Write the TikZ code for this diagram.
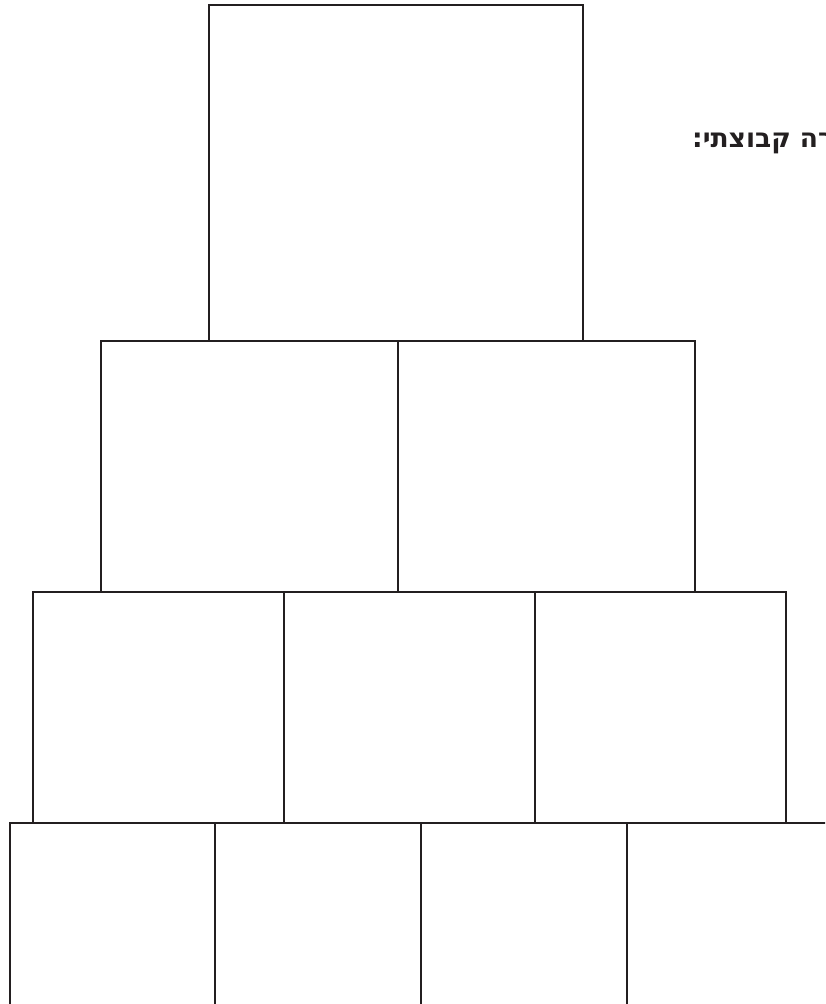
\documentclass[tikz,border=0pt]{standalone}
\usepackage{fontspec}
\newfontfamily\hebfont[Script=Hebrew]{DejaVu Sans}
\TeXXeTstate=1
\definecolor{ink}{HTML}{231F20}
\begin{document}
\begin{tikzpicture}[x=1pt,y=-1pt,
  blockbox/.style={draw=ink, line width=2pt, inner sep=0pt, outer sep=0pt, rectangle},
  titletext/.style={font=\hebfont\bfseries\fontsize{26.5}{30}\selectfont, text=ink, inner sep=0pt, anchor=base west}]
\useasboundingbox (0,0) rectangle (825,1004);
\clip (0,0) rectangle (825,1004);
% top
\node[blockbox, minimum width=374pt, minimum height=336pt] (t1) at (396,173) {};
% row 2
\node[blockbox, minimum width=297pt, minimum height=251pt] (r2a) at (249.5,466.5) {};
\node[blockbox, minimum width=297pt, minimum height=251pt] (r2b) at (546.5,466.5) {};
% row 3
\node[blockbox, minimum width=251pt, minimum height=231pt] (r3a) at (158.5,707.5) {};
\node[blockbox, minimum width=251pt, minimum height=231pt] (r3b) at (409.5,707.5) {};
\node[blockbox, minimum width=251pt, minimum height=231pt] (r3c) at (660.5,707.5) {};
% row 4
\node[blockbox, minimum width=205.5pt, minimum height=207pt] (r4a) at (112.5,926.5) {};
\node[blockbox, minimum width=205.5pt, minimum height=207pt] (r4b) at (318,926.5) {};
\node[blockbox, minimum width=205.5pt, minimum height=207pt] (r4c) at (524,926.5) {};
\node[blockbox, minimum width=205.5pt, minimum height=207pt] (r4d) at (730,926.5) {};
% title
\node[titletext] (title) at (692,147) {\beginR רה קבוצתי:\endR};
\end{tikzpicture}
\end{document}
